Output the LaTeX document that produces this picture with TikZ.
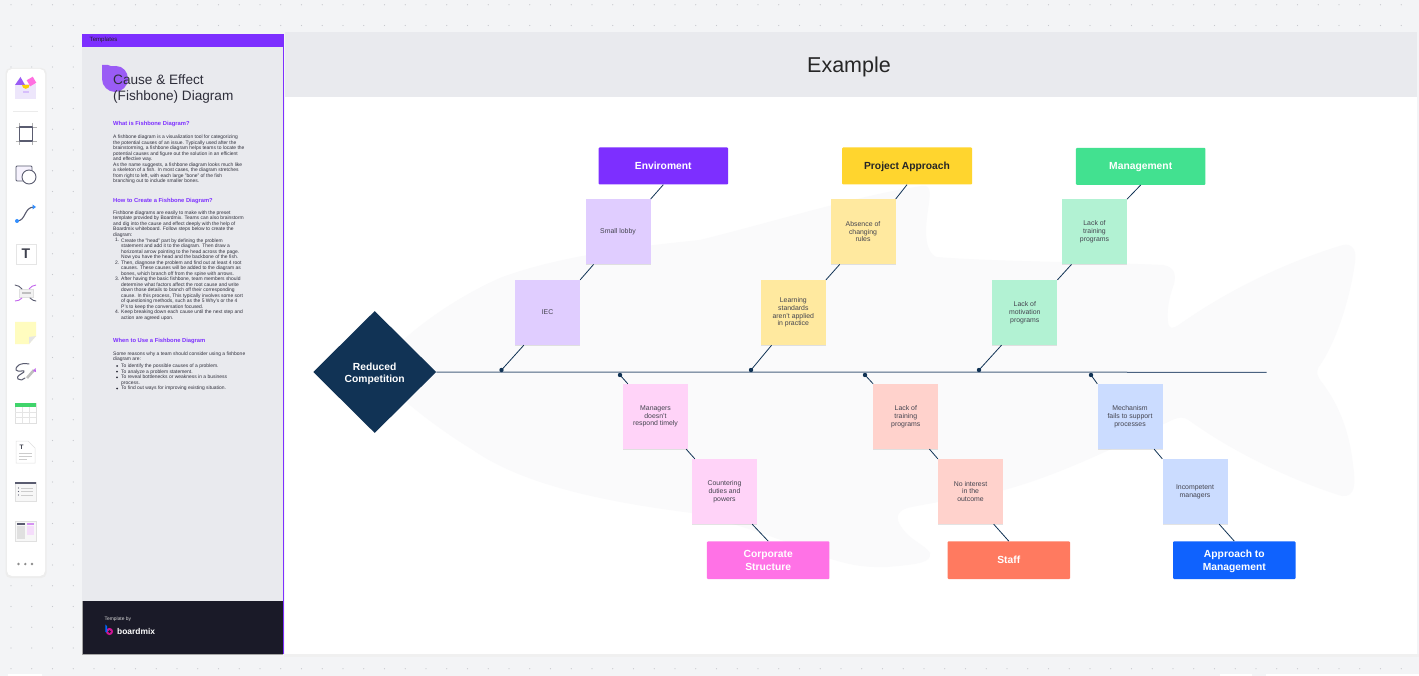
\documentclass[tikz,border=0pt]{standalone}
\usepackage{fontspec}
\setmainfont{Liberation Sans}
\usetikzlibrary{shapes.geometric,shadows,calc}
\definecolor{bgc}{HTML}{F3F4F6}
\definecolor{dotc}{HTML}{C6C8CD}
\definecolor{panelc}{HTML}{E9EAEE}
\definecolor{purplec}{HTML}{7D2FFF}
\definecolor{headc}{HTML}{9A5CF5}
\definecolor{footc}{HTML}{1A1A28}
\definecolor{fishc}{HTML}{FAFAFB}
\definecolor{navyc}{HTML}{113355}
\definecolor{linec}{HTML}{4A6280}
\definecolor{txtc}{HTML}{2E2E3A}
\definecolor{stxt}{HTML}{44444F}
\definecolor{iconc}{HTML}{5A5C70}
\definecolor{pinkc}{HTML}{FF6FE0}
\definecolor{softpink}{HTML}{F5DDFB}
\definecolor{softviolet}{HTML}{EDE6FB}
\tikzset{
  x=1pt,y=-1pt,
  sticky/.style={minimum width=65pt,minimum height=65pt,inner sep=0pt,align=center,font=\fontsize{6.9}{7.8}\selectfont,text=stxt,
    drop shadow={opacity=.22,shadow xshift=0pt,shadow yshift=-1pt}},
  catbox/.style={minimum height=37pt,inner sep=0pt,rounded corners=1pt,align=center,text=white,font=\fontsize{10.3}{12.6}\selectfont\bfseries},
  oneline/.style={text height=9.6pt,text depth=2.6pt},
  conn/.style={draw=navyc,line width=.8pt},
  spinedot/.style={circle,fill=navyc,inner sep=0pt,minimum size=4.4pt},
  para/.style={anchor=north west,inner sep=0pt,yshift=-1pt,align=left,text=txtc,font=\fontsize{4.95}{5.53}\selectfont},
  sechead/.style={anchor=west,inner sep=0pt,text=purplec,font=\fontsize{5.8}{7}\selectfont\bfseries},
  tool/.style={draw=iconc,line width=.9pt,line cap=round,line join=round},
  toolcard/.style={fill=white,draw=black!12,line width=.5pt,rounded corners=1pt},
}
\begin{document}
\begin{tikzpicture}
\useasboundingbox (0,0) rectangle (1419,676);
\fill[bgc] (0,0) rectangle (1419,676);
\fill[dotc] \foreach \i in {0,...,68}{\foreach \j in {0,...,32}{({11+20.75*\i},{4.75+20.75*\j}) circle (.65)}};
% main panel
\fill[black!6] (284,654) rectangle (1419,657);
\fill[white] (285,97) rectangle (1417,654);
\fill[panelc] (285,32) rectangle (1417,97);
\node[inner sep=0pt,font=\fontsize{21.5}{24}\selectfont,text=black!85] (title) at (849,67) {Example};
% fish silhouette
\fill[fishc] (375,372) .. controls (395,340) and (450,300) .. (500,278)
  .. controls (560,255) and (650,245) .. (700,240)
  .. controls (780,220) and (860,195) .. (922,186)
  .. controls (932,184) and (930,195) .. (928,210)
  .. controls (924,235) and (926,252) .. (936,257)
  .. controls (1000,262) and (1100,262) .. (1163,265)
  .. controls (1175,267) and (1176,275) .. (1174,284)
  .. controls (1168,300) and (1167,312) .. (1168,322)
  .. controls (1169,330) and (1173,329) .. (1180,324)
  .. controls (1240,282) and (1300,258) .. (1343,245)
  .. controls (1352,243) and (1357,250) .. (1355,262)
  .. controls (1350,300) and (1335,345) .. (1318,368)
  .. controls (1316,374) and (1318,376) .. (1320,380)
  .. controls (1340,405) and (1350,435) .. (1353,465)
  .. controls (1356,485) and (1355,497) .. (1342,496)
  .. controls (1290,480) and (1230,450) .. (1190,421)
  .. controls (1183,416) and (1180,417) .. (1172,420)
  .. controls (1120,445) and (1060,475) .. (1004,490)
  .. controls (970,497) and (930,503) .. (907,508)
  .. controls (895,512) and (896,520) .. (902,528)
  .. controls (910,540) and (925,545) .. (930,553)
  .. controls (931,562) and (922,564) .. (887,567)
  .. controls (860,568) and (840,563) .. (815,553)
  .. controls (770,535) and (730,522) .. (692,513)
  .. controls (630,505) and (530,490) .. (473,450)
  .. controls (440,430) and (400,400) .. (375,372) -- cycle;
% left panel
\fill[panelc] (82,34) rectangle (283,601);
\fill[footc] (82,601) rectangle (283,654);
\draw[black!35,line width=.5pt] (82,601) -- (82,654) -- (283,654);
\fill[purplec] (82,34) rectangle (284,47);
\fill[purplec] (282.5,34) rectangle (284,654);
\node[anchor=west,inner sep=0pt,font=\fontsize{6.1}{7}\selectfont,text=black!85] (tpl) at (89.5,40) {Templates};
\fill[headc] (102,65) -- (108,65) .. controls (112,67) and (114,66) .. (116,66) .. controls (123,66) and (128,72) .. (128,79) .. controls (128,86) and (122,92) .. (115,92) .. controls (108,92) and (102,86) .. (102,79) -- cycle;
\node[anchor=north west,inner sep=0pt,align=left,text=txtc,font=\fontsize{13.6}{16}\selectfont] (ctitle) at (113,74) {Cause \& Effect\\(Fishbone) Diagram};
\node[sechead] (h1) at (113,124.5) {What is Fishbone Diagram?};
\node[para] (p1) at (113,133.9) {A fishbone diagram is a visualization tool for categorizing\\the potential causes of an issue. Typically used after the\\brainstorming, a fishbone diagram helps teams to locate the\\potential causes and figure out the solution in an efficient\\and effective way.\\As the name suggests, a fishbone diagram looks much like\\a skeleton of a fish. In most cases, the diagram stretches\\from right to left, with each large "bone" of the fish\\branching out to include smaller bones.};
\node[sechead] (h2) at (113,201.2) {How to Create a Fishbone Diagram?};
\node[para] (p2) at (113,209.6) {Fishbone diagrams are easily to make with the preset\\template provided by Boardmix. Teams can also brainstorm\\and dig into the cause and effect deeply with the help of\\Boardmix whiteboard. Follow steps below to create the\\diagram:};
\node[para] (n1) at (115,237.3) {1.};
\node[para] (s1) at (121,237.3) {Create the "head" part by defining the problem\\statement and add it to the diagram. Then draw a\\horizontal arrow pointing to the head across the page.\\Now you have the head and the backbone of the fish.};
\node[para] (n2) at (115,259.4) {2.};
\node[para] (s2) at (121,259.4) {Then, diagnose the problem and find out at least 4  root\\causes. These causes will be added to the diagram as\\bones, which branch off from the spine with arrows.};
\node[para] (n3) at (115,276) {3.};
\node[para] (s3) at (121,276) {After having the basic fishbone, team members should\\determine what factors affect the root cause and write\\down those details to branch off their corresponding\\cause. In this process, This typically involves some sort\\of questioning methods, such as the 5 Why's or the 4\\P's to keep the conversation focused.};
\node[para] (n4) at (115,309.2) {4.};
\node[para] (s4) at (121,309.2) {Keep breaking down each cause until the next step and\\action are agreed upon.};
\node[sechead] (h3) at (113,340.8) {When to Use a Fishbone Diagram};
\node[para] (p3) at (113,350.6) {Some reasons why a team should consider using a fishbone\\diagram are:};
\node[para] (b1) at (121,362.7) {To identify the possible causes of a problem.};
\node[para] (b2) at (121,368.4) {To analyze a problem statement.};
\node[para] (b3) at (121,374) {To reveal bottlenecks or weakness in a business\\process.};
\node[para] (b4) at (121,385.2) {To find out ways for improving existing situation.};
\fill[txtc] (117,366) circle (1) (117,371.7) circle (1) (117,377.3) circle (1) (117,388.5) circle (1);
\node[anchor=west,inner sep=0pt,font=\fontsize{4.9}{6}\selectfont,text=white!85!black] (tby) at (104.5,619.5) {Template by};
\fill[magenta!70!purplec] (109.5,631.5) circle (3.6);
\fill[footc] (109.5,631.5) circle (1.5);
\fill[blue!60!cyan] (105.3,624.5) -- (107,626) -- (107,632) -- (105.3,632) -- cycle;
\node[anchor=west,inner sep=0pt,font=\fontsize{8.4}{9}\selectfont\bfseries,text=white] (bmx) at (117,631) {boardmix};
% toolbar
\fill[black!7,rounded corners=5pt] (5.5,68) rectangle (46.5,578);
\fill[white,rounded corners=5pt] (7,69) rectangle (45,576);
\draw[black!8,line width=.6pt] (13,111.5) -- (38,111.5);
% templates icon
\fill[softviolet] (15,84) rectangle (36,99);
\fill[headc] (15,85) -- (20.5,77) -- (25,85) -- cycle;
\fill[yellow!70!orange] (22,85) arc[start angle=180,end angle=0,radius=3.8] -- cycle;
\fill[pinkc,rotate around={30:(31.5,81.5)}] (28,78) rectangle (35,85);
\fill[headc!40] (23,91) rectangle (29,93);
% frame
\draw[tool,line width=1.1pt] (19.5,127) rectangle (32.5,141);
\draw[black!30,line width=.8pt] (15.5,127) -- (19,127) (33,127) -- (36.5,127) (15.5,141) -- (19,141) (33,141) -- (36.5,141) (19.5,123) -- (19.5,126) (32.5,123) -- (32.5,126) (19.5,142) -- (19.5,145) (32.5,142) -- (32.5,145);
% shape
\draw[tool,fill=softviolet!50,rounded corners=1pt] (16,166) rectangle (32,181);
\draw[tool,fill=white] (29,177) circle (7);
% connector
\draw[tool,line width=1.1pt] (17,221) .. controls (26,221) and (24,207) .. (34,207);
\fill[blue!55!cyan!80] (17,221) circle (2);
\fill[blue!55!cyan!80] (32.5,204.5) -- (36,207) -- (32.5,209.5) -- cycle;
% text
\fill[white,draw=black!10,line width=.6pt] (16,244) rectangle (36,264);
\node[inner sep=0pt,font=\fontsize{14}{14}\selectfont\bfseries,text=iconc!70!black] (ticon) at (26,254) {T};
% mindmap
\fill[black!5,draw=black!12,line width=.4pt] (19,289.5) rectangle (33,297);
\fill[black!25] (21.5,292) rectangle (30.5,294.5);
\draw[tool] (15,285) .. controls (18,285) and (20,287) .. (22,289);
\draw[tool] (30,298) .. controls (32,300) and (34,301) .. (36,301);
\draw[headc!60!pinkc,line width=.9pt] (36,285) .. controls (33,285) and (31,287) .. (29,289);
\draw[headc!60!pinkc,line width=.9pt] (15,301) .. controls (18,301) and (20,300) .. (22,298);
% sticky
\fill[yellow!25!white] (15,322) -- (36,322) -- (36,336) -- (29,344) -- (15,344) -- cycle;
\fill[white!90!black] (36,336) -- (29,344) -- (29,337) -- cycle;
% pen
\draw[tool,line width=1pt] (29,364) .. controls (20,362) and (15,367) .. (16,370) .. controls (18,373) and (26,369) .. (24,372) .. controls (20,375) and (16,376) .. (18,379) .. controls (20,381) and (23,380) .. (25,378);
\draw[black!25,line width=2.6pt] (27,378) -- (34,370);
\fill[headc!60!pinkc] (33,371) -- (35.5,368) -- (36,372) -- cycle;
% table
\fill[white,draw=black!12,line width=.5pt] (15,403) rectangle (36,423);
\fill[green!55!teal!75] (15,403) rectangle (36,407);
\draw[black!10,line width=.5pt] (15,412) -- (36,412) (15,417) -- (36,417) (22,407) -- (22,423) (29,407) -- (29,423);
% doc
\fill[white,draw=black!12,line width=.5pt] (16,441) -- (28,441) -- (35,448) -- (35,463) -- (16,463) -- cycle;
\node[inner sep=0pt,font=\fontsize{6.5}{7}\selectfont\bfseries,text=iconc!70!black] (dicon) at (21.5,447) {T};
\draw[black!20,line width=.9pt] (19,453) -- (32,453) (19,456) -- (32,456) (19,459) -- (27,459);
% list
\fill[white!97!black,draw=black!12,line width=.5pt] (15,482) rectangle (36,501);
\fill[iconc] (15,482) rectangle (36,484);
\draw[black!20,line width=.9pt] (21,488) -- (33,488) (21,491.5) -- (33,491.5) (21,495) -- (33,495);
\fill[iconc] (18.5,488) circle (.7) (18.5,491.5) circle (.7) (18.5,495) circle (.7);
% template
\fill[white!97!black,draw=black!12,line width=.5pt] (15,521) rectangle (36,541);
\fill[iconc] (17,522.5) rectangle (25,524.5);
\fill[headc!60!pinkc!70] (26.5,522.5) rectangle (34,524.5);
\fill[black!12] (17,526) rectangle (25,539);
\fill[softpink] (26.5,526) rectangle (34,535);
\fill[black!45] (18.5,564) circle (1.3) (25.3,564) circle (1.3) (32,564) circle (1.3);
\fill[white] (8,674) rectangle (42,676);
\fill[white] (1220,674) rectangle (1252,676);
\fill[white] (1266,674) rectangle (1419,676);
% fishbone
\node[diamond,aspect=1,fill=navyc,text=white,minimum width=123pt,minimum height=122pt,inner sep=0pt,align=center,font=\fontsize{10.3}{12.6}\selectfont\bfseries] (head) at (374.7,372) {\rule{0pt}{11pt}Reduced\\Competition};
\coordinate (spineend) at (1266.5,372.3);
\draw[draw=linec,line width=1pt] (head.east) -- (spineend);
\node[spinedot] (d1) at (501.5,370) {};
\node[spinedot] (d2) at (751,370) {};
\node[spinedot] (d3) at (979,370) {};
\node[spinedot] (d4) at (620,375) {};
\node[spinedot] (d5) at (865,375) {};
\node[spinedot] (d6) at (1091,375) {};
% upper
\node[catbox,oneline,fill=purplec,minimum width=129.5pt] (env) at (663.3,166) {Enviroment};
\node[catbox,oneline,fill={rgb,255:red,255;green,213;blue,46},text=black!85,minimum width=130pt] (pa) at (907,166) {Project Approach};
\node[catbox,oneline,fill={rgb,255:red,66;green,225;blue,144},minimum width=129.5pt] (mg) at (1140.7,166.3) {Management};
\node[sticky,fill={rgb,255:red,224;green,205;blue,255}] (lobby) at (618,231.7) {Small lobby};
\node[sticky,fill={rgb,255:red,224;green,205;blue,255}] (iec) at (547.5,312.5) {IEC};
\node[sticky,fill={rgb,255:red,255;green,233;blue,159}] (abs) at (863,231.7) {Absence of\\changing\\rules};
\node[sticky,fill={rgb,255:red,255;green,233;blue,159}] (learn) at (793.3,312.5) {Learning\\standards\\aren't applied\\in practice};
\node[sticky,fill={rgb,255:red,178;green,242;blue,211}] (ltp) at (1094.5,231.7) {Lack of\\training\\programs};
\node[sticky,fill={rgb,255:red,178;green,242;blue,211}] (lmp) at (1024.8,312.5) {Lack of\\motivation\\programs};
\draw[conn] (env.south) -- (lobby.north east);
\draw[conn] ([xshift=8.3pt]lobby.south west) -- (iec.north east);
\draw[conn] ([xshift=9pt]iec.south west) -- (d1.center);
\draw[conn] (pa.south) -- (abs.north east);
\draw[conn] ([xshift=9.4pt]abs.south west) -- (learn.north east);
\draw[conn] ([xshift=11pt]learn.south west) -- (d2.center);
\draw[conn] (mg.south) -- (ltp.north east);
\draw[conn] ([xshift=9.7pt]ltp.south west) -- (lmp.north east);
\draw[conn] ([xshift=9.4pt]lmp.south west) -- (d3.center);
% lower
\node[sticky,fill={rgb,255:red,255;green,211;blue,248}] (mgr) at (655.5,416.5) {Managers\\doesn't\\respond timely};
\node[sticky,fill={rgb,255:red,255;green,211;blue,248}] (cnt) at (724.5,491.5) {Countering\\duties and\\powers};
\node[sticky,fill={rgb,255:red,255;green,210;blue,204}] (lt2) at (905.8,416.5) {Lack of\\training\\programs};
\node[sticky,fill={rgb,255:red,255;green,210;blue,204}] (noi) at (970.5,491.5) {No interest\\in the\\outcome};
\node[sticky,fill={rgb,255:red,203;green,220;blue,255}] (mch) at (1130,416.5) {Mechanism\\fails to support\\processes};
\node[sticky,fill={rgb,255:red,203;green,220;blue,255}] (inc) at (1195,491.5) {Incompetent\\managers};
\node[catbox,fill={rgb,255:red,255;green,114;blue,230},minimum width=122.5pt,minimum height=37.7pt] (cs) at (768.2,560.2) {Corporate\\Structure};
\node[catbox,oneline,fill={rgb,255:red,255;green,122;blue,96},minimum width=122.5pt,minimum height=37.7pt] (st) at (1008.8,560.2) {Staff};
\node[catbox,fill={rgb,255:red,15;green,98;blue,254},minimum width=122.5pt,minimum height=37.7pt] (am) at (1234.3,560.2) {\rule{0pt}{9.8pt}Approach to\\Management};
\draw[conn] (d4.center) -- ([xshift=5pt]mgr.north west);
\draw[conn] ([xshift=-2pt]mgr.south east) -- ([xshift=3pt]cnt.north west);
\draw[conn] ([xshift=-5pt]cnt.south east) -- (cs.north);
\draw[conn] (d5.center) -- (lt2.north west);
\draw[conn] ([xshift=-9pt]lt2.south east) -- (noi.north west);
\draw[conn] ([xshift=-9.5pt]noi.south east) -- (st.north);
\draw[conn] (d6.center) -- (mch.north west);
\draw[conn] ([xshift=-8.5pt]mch.south east) -- (inc.north west);
\draw[conn] ([xshift=-8.5pt]inc.south east) -- (am.north);
\end{tikzpicture}
\end{document}
